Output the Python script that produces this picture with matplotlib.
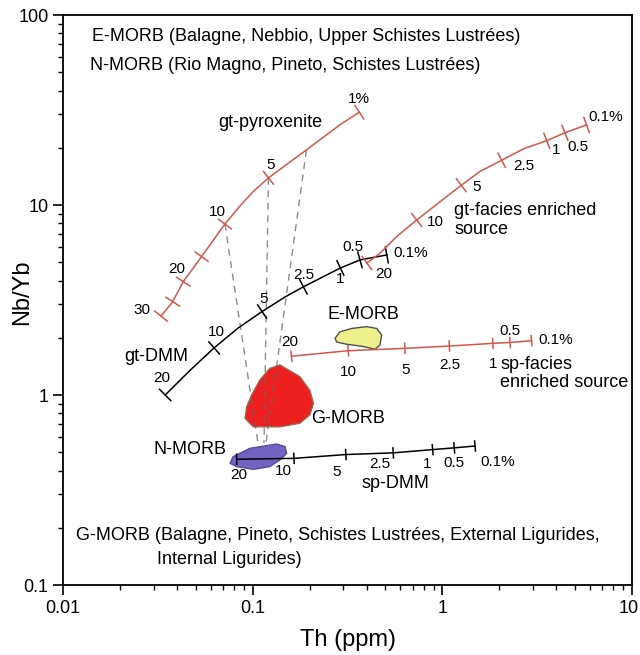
import numpy as np
import matplotlib
matplotlib.use('Agg')
import matplotlib.pyplot as plt
import matplotlib.transforms as mtransforms
from matplotlib.ticker import NullFormatter

plt.rcParams['font.family'] = ['Liberation Sans', 'DejaVu Sans']

# melting curves: Th (ppm) vs Nb/Yb, marks = degree of melting at ticks
# (None = no tick, '' = tick without label)
pyx_th = [0.0328, 0.0378, 0.0430, 0.0537, 0.0713, 0.085, 0.100, 0.121, 0.192, 0.288, 0.365]
pyx_nbyb = [2.60, 3.10, 3.95, 5.35, 7.94, 9.8, 11.7, 13.9, 19.5, 26.4, 30.8]
pyx_marks = ['30', '', '20', '', '10', None, None, '5', None, None, '1%']

dmm_th = [0.0345, 0.0467, 0.0625, 0.0836, 0.112, 0.148, 0.185, 0.290, 0.368, 0.510]
dmm_nbyb = [1.00, 1.35, 1.77, 2.25, 2.75, 3.28, 3.71, 4.66, 5.14, 5.46]
dmm_marks = ['20', None, '10', None, '5', None, '2.5', '1', '0.5', '0.1%']

gtf_th = [0.400, 0.469, 0.574, 0.733, 1.26, 1.58, 2.06, 2.70, 3.56, 4.44, 5.78]
gtf_nbyb = [4.95, 5.57, 6.81, 8.34, 12.7, 15.0, 17.2, 19.8, 21.8, 24.0, 26.4]
gtf_marks = ['20', None, None, '10', '5', None, '2.5', None, '1', '0.5', '0.1%']

spf_th = [0.160, 0.319, 0.635, 1.09, 1.85, 2.28, 2.96]
spf_nbyb = [1.60, 1.71, 1.76, 1.81, 1.87, 1.89, 1.93]
spf_marks = ['20', '10', '5', '2.5', '1', '0.5', '0.1%']

spd_th = [0.0822, 0.165, 0.310, 0.551, 0.890, 1.157, 1.49]
spd_nbyb = [0.459, 0.464, 0.486, 0.496, 0.516, 0.527, 0.539]
spd_marks = ['20', '10', '5', '2.5', '1', '0.5', '0.1%']

# mixing lines from gt-pyroxenite melts toward sp-DMM
mix_th_top = [0.0713, 0.121, 0.192]
mix_nbyb_top = [7.94, 13.9, 19.5]
mix_th_bot = [0.1065, 0.1146, 0.1175]
mix_nbyb_bot = [0.56, 0.56, 0.56]

# MORB fields (outlines)
emorb_th = [0.272, 0.288, 0.333, 0.399, 0.451, 0.479, 0.469, 0.442, 0.383, 0.313, 0.277]
emorb_nbyb = [1.99, 2.15, 2.24, 2.29, 2.24, 2.07, 1.83, 1.74, 1.80, 1.85, 1.90]
gmorb_th = [0.139, 0.177, 0.200, 0.209, 0.200, 0.177, 0.139, 0.1006, 0.091, 0.0929, 0.0987, 0.109, 0.123]
gmorb_nbyb = [1.44, 1.25, 1.06, 0.904, 0.785, 0.71, 0.68, 0.68, 0.754, 0.868, 1.00, 1.20, 1.38]
nmorb_th = [0.0758, 0.0788, 0.0966, 0.1337, 0.148, 0.151, 0.139, 0.123, 0.1006, 0.0822]
nmorb_nbyb = [0.437, 0.474, 0.524, 0.552, 0.535, 0.493, 0.455, 0.42, 0.406, 0.42]

RED = '#d4574b'

fig = plt.figure(figsize=(6.4, 6.55), dpi=100)
ax = fig.add_axes([63.3 / 640, 1 - 585 / 655, 568.4 / 640, 570 / 655])
ax.set_xscale('log')
ax.set_yscale('log')
ax.set_xlim(0.01, 10)
ax.set_ylim(0.1, 100)


def ticked_curve(th, nb, marks, offs, half, color, lw=1.1):
    ax.plot(th, nb, color=color, lw=lw, zorder=4)
    pts = ax.transData.transform(np.column_stack([th, nb]))
    inv = ax.transData.inverted()
    for i, m in enumerate(marks):
        if m is None:
            continue
        a = pts[max(i - 1, 0)]
        b = pts[min(i + 1, len(pts) - 1)]
        d = (b - a) / np.hypot(*(b - a))
        n = np.array([-d[1], d[0]])
        seg = inv.transform([pts[i] - n * half, pts[i] + n * half])
        ax.plot(seg[:, 0], seg[:, 1], color=color, lw=lw, zorder=4)
        if m:
            dx, dy, ha = offs[m]
            ax.annotate(m, xy=(th[i], nb[i]), xytext=(dx, dy), textcoords='offset pixels',
                        ha=ha, va='center', fontsize=11, zorder=5)


# fields
ax.fill(gmorb_th, gmorb_nbyb, facecolor='#ee1f1f', edgecolor='#9a6a50', lw=1, zorder=2)
ax.fill(emorb_th, emorb_nbyb, facecolor='#eef08c', edgecolor='#505050', lw=1, zorder=2)
ax.fill(nmorb_th, nmorb_nbyb, facecolor='#7262c2', edgecolor='#5a4a9a', lw=1, zorder=2)

for i in range(len(mix_th_top)):
    ax.plot([mix_th_top[i], mix_th_bot[i]], [mix_nbyb_top[i], mix_nbyb_bot[i]],
            color='#666666', lw=1, ls=(0, (5, 4)), alpha=0.75, zorder=3)

c = 'center'
ticked_curve(pyx_th, pyx_nbyb, pyx_marks,
             {'30': (-19, 6, c), '20': (-7, 13, c), '10': (-8, 12, c), '5': (2, 13, c),
              '1%': (0, 13, c)}, 8, RED)
ticked_curve(dmm_th, dmm_nbyb, dmm_marks,
             {'20': (-3, 17, c), '10': (2, 16, c), '5': (2, 13, c), '2.5': (0, 12, c),
              '1': (0, -11, c), '0.5': (-7, 13, c), '0.1%': (7, 2, 'left')}, 8, 'black')
ticked_curve(gtf_th, gtf_nbyb, gtf_marks,
             {'20': (17, -11, c), '10': (10, -2, 'left'), '5': (11, -2, 'left'),
              '2.5': (12, -6, 'left'), '1': (9, -9, c), '0.5': (13, -14, c),
              '0.1%': (2, 8, 'left')}, 8, RED)
ticked_curve(spf_th, spf_nbyb, spf_marks,
             {'20': (-2, 14, c), '10': (0, -21, c), '5': (1, -22, c), '2.5': (0, -19, c),
              '1': (0, -21, c), '0.5': (0, 11, c), '0.1%': (7, 1, 'left')}, 5, RED)
ticked_curve(spd_th, spd_nbyb, spd_marks,
             {'20': (2, -16, c), '10': (-11, -13, c), '5': (-9, -17, c), '2.5': (-13, -11, c),
              '1': (-6, -14, c), '0.5': (0, -15, c), '0.1%': (5, -16, 'left')}, 5, 'black')

# labels
fs = 13
tr = ax.transAxes
ax.text(0.0505, 0.963, 'E-MORB (Balagne, Nebbio, Upper Schistes Lustrées)', transform=tr, fontsize=fs, va='center')
ax.text(0.047, 0.9116, 'N-MORB (Rio Magno, Pineto, Schistes Lustrées)', transform=tr, fontsize=fs, va='center')
ax.text(0.0216, 0.087, 'G-MORB (Balagne, Pineto, Schistes Lustrées, External Ligurides,', transform=tr, fontsize=fs, va='center')
ax.text(0.1654, 0.0442, 'Internal Ligurides)', transform=tr, fontsize=fs, va='center')
ax.text(0.3637, 0.811, 'gt-pyroxenite', transform=tr, fontsize=fs, ha='center', va='center')
ax.text(0.1643, 0.4005, 'gt-DMM', transform=tr, fontsize=fs, ha='center', va='center')
ax.text(0.6874, 0.6404, 'gt-facies enriched\nsource', transform=tr, fontsize=fs, va='center', linespacing=1.1)
ax.text(0.5278, 0.4754, 'E-MORB', transform=tr, fontsize=fs, ha='center', va='center')
ax.text(0.5014, 0.2925, 'G-MORB', transform=tr, fontsize=fs, ha='center', va='center')
ax.text(0.2229, 0.2381, 'N-MORB', transform=tr, fontsize=fs, ha='center', va='center')
ax.text(0.7683, 0.3707, 'sp-facies\nenriched source', transform=tr, fontsize=fs, va='center', linespacing=1.05)
ax.text(0.5836, 0.1772, 'sp-DMM', transform=tr, fontsize=fs, ha='center', va='center')

ax.set_xticks([0.01, 0.1, 1, 10])
ax.set_xticklabels(['0.01', '0.1', '1', '10'])
ax.set_yticks([0.1, 1, 10, 100])
ax.set_yticklabels(['0.1', '1', '10', '100'])
ax.xaxis.set_minor_formatter(NullFormatter())
ax.yaxis.set_minor_formatter(NullFormatter())
ax.tick_params(which='major', length=7, width=1.2, labelsize=13, direction='out')
ax.tick_params(which='minor', length=3.5, width=1, direction='out')
for s in ax.spines.values():
    s.set_linewidth(1.3)

# keep the last x tick label inside the figure
last = ax.get_xticklabels()[-1]
last.set_transform(last.get_transform() + mtransforms.ScaledTranslation(-3 / 100, 0, fig.dpi_scale_trans))

ax.set_xlabel('Th (ppm)', fontsize=17, labelpad=9)
ax.set_ylabel('Nb/Yb', fontsize=17)
ax.yaxis.set_label_coords(-0.053, 0.514)

fig.savefig('out.png', dpi=100)
